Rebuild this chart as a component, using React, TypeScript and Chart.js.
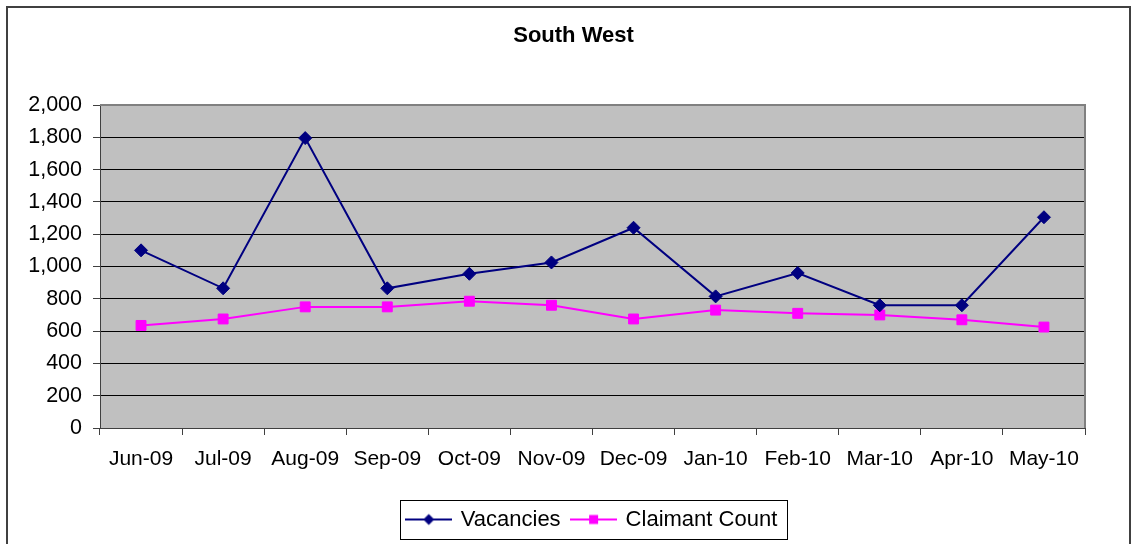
import React, { useEffect, useRef } from 'react';
import { Chart, registerables } from 'chart.js';

Chart.register(...registerables);

const title = 'South West';
const categories = ['Jun-09', 'Jul-09', 'Aug-09', 'Sep-09', 'Oct-09', 'Nov-09', 'Dec-09', 'Jan-10', 'Feb-10', 'Mar-10', 'Apr-10', 'May-10'];
const vacancies = [1100, 865, 1795, 865, 955, 1025, 1240, 815, 960, 760, 760, 1305];
const claimantCount = [635, 675, 750, 750, 785, 760, 675, 730, 710, 700, 670, 625];
const seriesNames = ['Vacancies', 'Claimant Count'];
const yMin = 0;
const yMax = 2000;
const yStep = 200;

const NAVY = '#000080';
const MAGENTA = '#FF00FF';
const FONT = 'Arial, "Liberation Sans", sans-serif';

function legendSymbol(color: string, kind: 'diamond' | 'square') {
  const c = document.createElement('canvas');
  c.width = 47;
  c.height = 14;
  const ctx = c.getContext('2d')!;
  ctx.strokeStyle = color;
  ctx.lineWidth = 2;
  ctx.beginPath();
  ctx.moveTo(0, 7);
  ctx.lineTo(47, 7);
  ctx.stroke();
  ctx.fillStyle = color;
  if (kind === 'diamond') {
    ctx.beginPath();
    ctx.moveTo(23.5, 1.5);
    ctx.lineTo(29, 7);
    ctx.lineTo(23.5, 12.5);
    ctx.lineTo(18, 7);
    ctx.closePath();
    ctx.fill();
  } else {
    ctx.fillRect(19, 2.5, 9, 9);
  }
  return c;
}

export default function App() {
  const ref = useRef<HTMLCanvasElement | null>(null);

  useEffect(() => {
    if (!ref.current) return;
    const symbols = [legendSymbol(NAVY, 'diamond'), legendSymbol(MAGENTA, 'square')];

    const decor = {
      id: 'decor',
      beforeDraw(chart: any) {
        const { ctx, chartArea: a } = chart;
        ctx.save();
        ctx.fillStyle = '#ffffff';
        ctx.fillRect(0, 0, chart.width, chart.height);
        ctx.fillStyle = '#C0C0C0';
        ctx.fillRect(a.left, a.top, a.right - a.left, a.bottom - a.top);
        ctx.restore();
      },
      beforeDatasetsDraw(chart: any) {
        const { ctx, chartArea: a } = chart;
        ctx.save();
        ctx.strokeStyle = '#808080';
        ctx.lineWidth = 2;
        ctx.beginPath();
        ctx.moveTo(a.left, a.top);
        ctx.lineTo(a.right, a.top);
        ctx.lineTo(a.right, a.bottom);
        ctx.stroke();
        ctx.restore();
      },
      afterDraw(chart: any) {
        const { ctx } = chart;
        ctx.save();
        ctx.strokeStyle = '#404040';
        ctx.lineWidth = 2;
        ctx.strokeRect(7, 7, 1123, 560);
        const hb = chart.legend.legendHitBoxes;
        if (hb && hb.length) {
          const last = hb[hb.length - 1];
          const left = hb[0].left - 8;
          const right = last.left + last.width + 10;
          const top = hb[0].top - 8.5;
          const bottom = hb[0].top + hb[0].height + 8.5;
          ctx.strokeStyle = '#000000';
          ctx.lineWidth = 1;
          ctx.strokeRect(Math.round(left) + 0.5, Math.round(top) + 0.5, Math.round(right - left), Math.round(bottom - top));
        }
        ctx.restore();
      },
    };

    const chart = new Chart(ref.current, {
      type: 'line',
      data: {
        labels: categories,
        datasets: [
          {
            label: seriesNames[0],
            data: vacancies,
            borderColor: NAVY,
            backgroundColor: NAVY,
            borderWidth: 2,
            pointStyle: 'rectRot',
            pointRadius: 6.5,
            pointBorderWidth: 1,
            pointBackgroundColor: NAVY,
            pointBorderColor: NAVY,
            tension: 0,
            yAxisID: 'y',
          },
          {
            label: seriesNames[1],
            data: claimantCount,
            borderColor: MAGENTA,
            backgroundColor: MAGENTA,
            borderWidth: 2,
            pointStyle: 'rect',
            pointRadius: 7,
            pointBorderWidth: 1,
            pointBackgroundColor: MAGENTA,
            pointBorderColor: MAGENTA,
            tension: 0,
            yAxisID: 'y',
          },
        ],
      },
      options: {
        responsive: false,
        animation: false,
        layout: { padding: { top: 10, left: 14, right: 0, bottom: 3.5 } },
        scales: {
          x: {
            type: 'category',
            offset: true,
            grid: {
              display: true,
              offset: true,
              drawOnChartArea: false,
              drawTicks: true,
              tickLength: 7,
              tickColor: '#404040',
            },
            border: { display: true, color: '#404040', width: 1 },
            ticks: {
              color: '#000000',
              font: { family: FONT, size: 21 },
              padding: 12,
              maxRotation: 0,
              autoSkip: false,
            },
            afterFit: (s: any) => {
              s.height = 68.5;
            },
          },
          y: {
            type: 'linear',
            position: 'left',
            min: yMin,
            max: yMax,
            grid: {
              color: (c: any) => (c.tick && c.tick.value === yMax ? 'rgba(0,0,0,0)' : '#000000'),
              lineWidth: 1,
              tickLength: 7,
              tickColor: '#404040',
              drawTicks: true,
            },
            border: { display: true, color: '#404040', width: 1 },
            ticks: {
              stepSize: yStep,
              color: '#000000',
              font: { family: FONT, size: 21.5 },
              padding: 11,
              callback: (v: any) => Number(v).toLocaleString('en-US'),
            },
            afterFit: (s: any) => {
              s.width = 86;
            },
          },
          y2: {
            type: 'linear',
            position: 'right',
            display: true,
            grid: { display: false, drawTicks: false },
            border: { display: false },
            ticks: { display: false },
            afterFit: (s: any) => {
              s.width = 48;
            },
          },
        },
        plugins: {
          title: {
            display: true,
            text: title,
            color: '#000000',
            font: { family: FONT, size: 22, weight: 'bold' },
            padding: { top: 12.5, bottom: 56.1 },
          },
          legend: {
            display: true,
            position: 'bottom',
            fullSize: false,
            labels: {
              color: '#000000',
              font: { family: FONT, size: 22 },
              usePointStyle: true,
              pointStyleWidth: 42,
              padding: 12,
              generateLabels: (ch: any) =>
                (Chart.defaults.plugins.legend.labels.generateLabels as any)(ch).map((l: any, i: number) => ({
                  ...l,
                  pointStyle: symbols[i],
                })),
            },
          },
          tooltip: { enabled: false },
        },
      } as any,
      plugins: [decor],
    });
    return () => chart.destroy();
  }, []);

  return (
    <div style={{ position: 'absolute', left: 0, top: 0, width: 1133, height: 544, background: '#fff' }}>
      <canvas ref={ref} width={1133} height={544} style={{ display: 'block', width: 1133, height: 544 }} />
    </div>
  );
}
